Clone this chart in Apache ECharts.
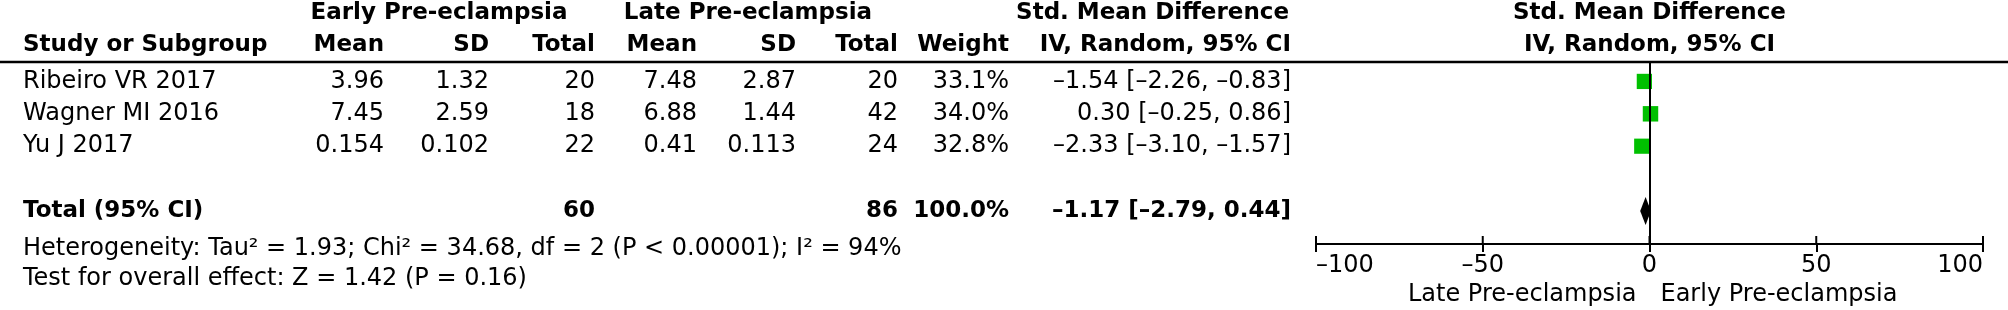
<!DOCTYPE html>
<html><head><meta charset="utf-8">
<script src="https://cdn.jsdelivr.net/npm/echarts@6/dist/echarts.min.js"></script>
<style>html,body{margin:0;padding:0;background:#fff}#chart{width:2008px;height:310px}</style>
</head><body><div id="chart"></div>
<script>
// ---- data ----
const studies = ['Ribeiro VR 2017', 'Wagner MI 2016', 'Yu J 2017'];
const earlyMean = [3.96, 7.45, 0.154];
const earlySD = [1.32, 2.59, 0.102];
const earlyTotal = [20, 18, 22];
const lateMean = [7.48, 6.88, 0.41];
const lateSD = [2.87, 1.44, 0.113];
const lateTotal = [20, 42, 24];
const weights = [33.1, 34.0, 32.8];
const smd = [-1.54, 0.30, -2.33];
const ciLow = [-2.26, -0.25, -3.10];
const ciHigh = [-0.83, 0.86, -1.57];
const totalLabel = 'Total (95% CI)';
const totalEarly = 60;
const totalLate = 86;
const totalWeight = 100.0;
const pooled = -1.17;
const pooledLow = -2.79;
const pooledHigh = 0.44;
const heterogeneityText = 'Heterogeneity: Tau² = 1.93; Chi² = 34.68, df = 2 (P < 0.00001); I² = 94%';
const overallText = 'Test for overall effect: Z = 1.42 (P = 0.16)';
const xTicks = [-100, -50, 0, 50, 100];
const favoursLeft = 'Late Pre-eclampsia';
const favoursRight = 'Early Pre-eclampsia';
const groupHeaders = ['Early Pre-eclampsia', 'Late Pre-eclampsia', 'Std. Mean Difference'];
const colHeaders = ['Study or Subgroup', 'Mean', 'SD', 'Total', 'Mean', 'SD', 'Total', 'Weight', 'IV, Random, 95% CI'];

// ---- layout ----
const FONT = '"DejaVu Sans", Verdana, sans-serif';
const REG = '24px ' + FONT;
const BOLD = 'bold 23px ' + FONT;
const colX = [23, 384, 489, 595, 697, 796, 898, 1009, 1291];
const totalRow = 4;
const dash = s => s.replace(/-/g, '\u2013');
const fmt2 = v => dash(v.toFixed(2));
const ciStr = (e, l, h) => fmt2(e) + ' [' + fmt2(l) + ', ' + fmt2(h) + ']';

const chart = echarts.init(document.getElementById('chart'), null, {renderer: 'canvas'});
const rows = studies.map((s, i) => i);

chart.setOption({
  animation: false,
  backgroundColor: '#fff',
  grid: {left: 1316, right: 25, top: 62, bottom: 66, containLabel: false, outerBoundsMode: 'none'},
  xAxis: {
    type: 'value', min: -100, max: 100, interval: 50, position: 'bottom',
    splitLine: {show: false},
    axisLine: {show: true, onZero: false, lineStyle: {color: '#000', width: 2}},
    axisTick: {show: true, inside: false, length: 8, lineStyle: {color: '#000', width: 2}},
    axisLabel: {
      show: true, color: '#000', fontSize: 24, fontFamily: FONT, margin: 10,
      formatter: v => dash(String(v)),
      alignMinLabel: 'left', alignMaxLabel: 'right'
    }
  },
  yAxis: {type: 'value', min: -0.6, max: 5.02, inverse: true, show: false},
  series: [
    {
      // upward half of the axis ticks
      type: 'custom', z: 2, silent: true,
      data: xTicks.map(v => [v]),
      renderItem: (params, api) => {
        const x = api.coord([api.value(0), 0])[0];
        const bottom = params.coordSys.y + params.coordSys.height;
        return {type: 'line', shape: {x1: x, y1: bottom, x2: x, y2: bottom - 8},
                style: {stroke: '#000', lineWidth: 2}};
      }
    },
    {
      type: 'custom', z: 2,
      data: rows.map(i => [ciLow[i], ciHigh[i], i]),
      renderItem: (params, api) => {
        const a = api.coord([api.value(0), api.value(2)]);
        const b = api.coord([api.value(1), api.value(2)]);
        return {type: 'line', shape: {x1: a[0], y1: a[1], x2: b[0], y2: b[1]},
                style: {stroke: '#000', lineWidth: 1.5}};
      },
      markLine: {
        silent: true, symbol: 'none', label: {show: false},
        lineStyle: {color: '#000', width: 2, type: 'solid'},
        data: [{xAxis: 0}]
      }
    },
    {
      type: 'scatter', z: 3,
      symbol: 'rect',
      data: rows.map(i => [smd[i], i, weights[i]]),
      symbolSize: v => 2.65 * Math.sqrt(v[2]),
      itemStyle: {color: '#00c000', opacity: 1}
    },
    {
      type: 'custom', z: 4,
      data: [[pooled, pooledLow, pooledHigh, totalRow]],
      renderItem: (params, api) => {
        const c = api.coord([api.value(0), api.value(3)]);
        const l = api.coord([api.value(1), api.value(3)]);
        const h = api.coord([api.value(2), api.value(3)]);
        const hh = 14;
        return {type: 'polygon',
          shape: {points: [[l[0], c[1]], [c[0], c[1] - hh], [h[0], c[1]], [c[0], c[1] + hh]]},
          style: {fill: '#000'}};
      }
    }
  ]
});

// ---- table text, placed on the plot's row scale ----
const rowY = r => chart.convertToPixel({gridIndex: 0}, [0, r])[1];
const zeroX = chart.convertToPixel({gridIndex: 0}, [0, 0])[0];
const gridTop = rowY(-0.6);
const g = [];
function txt(text, x, y, font, align) {
  g.push({type: 'text', silent: true, z: 10,
    style: {text: text, x: x, y: y, font: font, fill: '#000', align: align || 'right', verticalAlign: 'middle'}});
}
const h1 = 13, h2 = 45;
txt(groupHeaders[0], 439, h1, BOLD, 'center');
txt(groupHeaders[1], 748, h1, BOLD, 'center');
txt(groupHeaders[2], 1289, h1, BOLD, 'right');
txt(groupHeaders[2], zeroX, h1, BOLD, 'center');
colHeaders.forEach((c, k) => txt(c, colX[k], h2, BOLD, k === 0 ? 'left' : 'right'));
txt(colHeaders[8], zeroX, h2, BOLD, 'center');
g.push({type: 'line', silent: true, z: 10, shape: {x1: 0, y1: gridTop, x2: 2008, y2: gridTop},
  style: {stroke: '#000', lineWidth: 2.5}});

rows.forEach(i => {
  const y = rowY(i);
  txt(studies[i], colX[0], y, REG, 'left');
  txt(String(earlyMean[i]), colX[1], y, REG);
  txt(String(earlySD[i]), colX[2], y, REG);
  txt(String(earlyTotal[i]), colX[3], y, REG);
  txt(String(lateMean[i]), colX[4], y, REG);
  txt(String(lateSD[i]), colX[5], y, REG);
  txt(String(lateTotal[i]), colX[6], y, REG);
  txt(weights[i].toFixed(1) + '%', colX[7], y, REG);
  txt(ciStr(smd[i], ciLow[i], ciHigh[i]), colX[8], y, REG);
});
const ty = rowY(totalRow);
txt(totalLabel, colX[0], ty, BOLD, 'left');
txt(String(totalEarly), colX[3], ty, BOLD);
txt(String(totalLate), colX[6], ty, BOLD);
txt(totalWeight.toFixed(1) + '%', colX[7], ty, BOLD);
txt(ciStr(pooled, pooledLow, pooledHigh), colX[8], ty, BOLD);

txt(heterogeneityText, colX[0], 249, REG, 'left');
txt(overallText, colX[0], 279, REG, 'left');

txt(favoursLeft, zeroX - 13, 295, REG, 'right');
txt(favoursRight, zeroX + 11, 295, REG, 'left');

chart.setOption({graphic: g});
</script>
</body></html>
